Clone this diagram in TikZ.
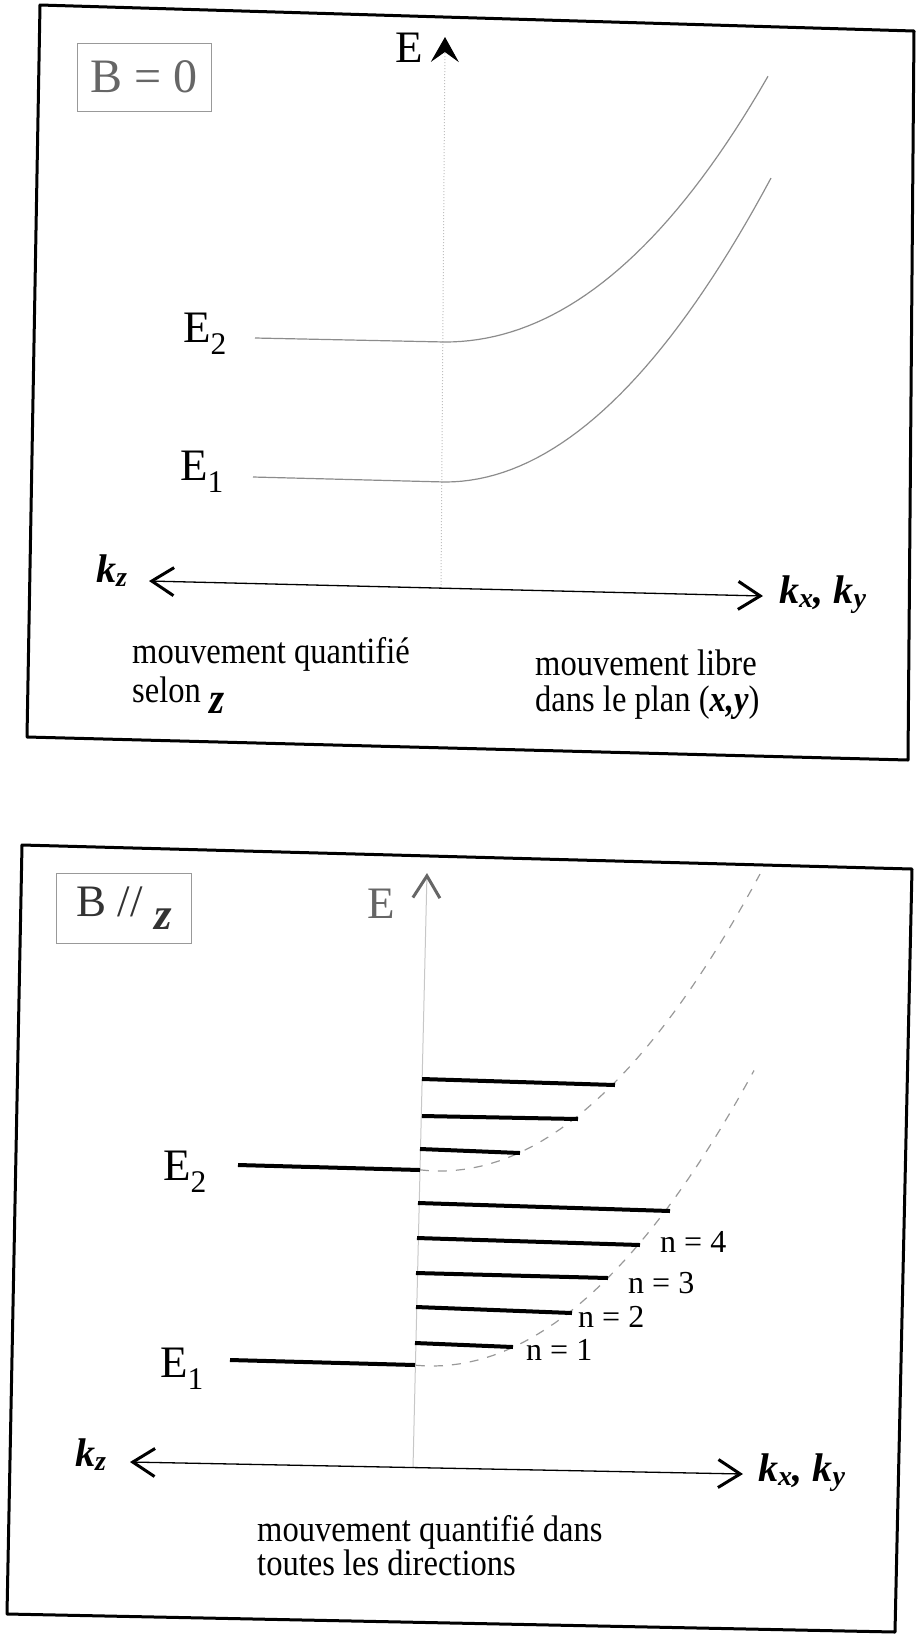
\documentclass[tikz,border=0pt]{standalone}
\usepackage{fontspec}
\setmainfont{Liberation Serif}
\newfontfamily\narrowserif{Liberation Serif}[FakeStretch=0.88]
\usetikzlibrary{arrows.meta}
\newcommand{\hw}[1]{{\bfseries\itshape #1}}

\begin{document}
\begin{tikzpicture}[
  x=1pt, y=-1pt,
  frame/.style={line width=3pt, line join=round},
  tag/.style={draw=black!40, line width=1pt, minimum width=134pt, minimum height=68pt, inner sep=0pt},
  elab/.style={font=\fontsize{45}{54}\selectfont, inner sep=0pt, anchor=base west},
  klab/.style={font=\fontsize{40}{44}\selectfont\bfseries\itshape, inner sep=0pt, anchor=base west},
  txt/.style={font=\narrowserif\fontsize{37}{40}\selectfont, inner sep=0pt, anchor=base west},
  nlab/.style={font=\fontsize{32}{36}\selectfont, inner sep=0pt, anchor=base west},
  band/.style={draw=black!45, line width=1.2pt},
  level/.style={line width=4pt},
  para/.style={draw=black!40, line width=1.2pt, dash pattern=on 9pt off 9pt},
  kaxis/.style={line width=1.3pt, {Straight Barb[length=22pt, width=28pt, line width=3pt]}-{Straight Barb[length=22pt, width=28pt, line width=3pt]}}
]
\useasboundingbox (0,0) rectangle (916,1634);

% upper panel: B = 0
\draw[frame] (40,5) -- (914,31) -- (908,760) -- (27,737) -- cycle;
\node[tag, text=black!60, font=\fontsize{48}{56}\selectfont] (bzero) at (144,77) {B = 0};

\coordinate (o1) at (441,588);
\coordinate (etip1) at (445,37);
\draw[draw=black!25, line width=1pt, dotted, -{Stealth[length=25pt, width=28pt, inset=10pt, black]}] (o1) -- (etip1);
\node[elab] (elab1) at (395,62) {E};

\node[elab] (ea2) at (183,342) {E\textsubscript{2}};
\node[elab] (ea1) at (180,480) {E\textsubscript{1}};
\coordinate (ea2s) at (255,338);
\coordinate (ea2v) at (445,342);
\coordinate (ea1s) at (253,477);
\coordinate (ea1v) at (445,482);
\draw[band] (ea2s) -- (ea2v) -- plot[domain=0:323, samples=40] ({445+\x}, {342-22.5*(\x/100)*(\x/100)-0.92*(\x/100)*(\x/100)*(\x/100)});
\draw[band] (ea1s) -- (ea1v) -- plot[domain=0:326, samples=40] ({445+\x}, {482-28.6*(\x/100)*(\x/100)});

\coordinate (kzl1) at (149,581);
\coordinate (kxr1) at (763,596);
\draw[kaxis] (kzl1) -- (kxr1);
\node[klab] (kz1) at (96,582) {k\textsubscript{z}};
\node[klab] (kxy1) at (779,603) {k\textsubscript{x}, k\textsubscript{y}};

\node[txt] (mq1) at (132,663) {mouvement quantifié};
\node[txt] (mq2) at (132,702) {selon \raisebox{-0.3em}{\hw{\fontsize{44}{48}\selectfont z}}};
\node[txt] (ml1) at (535,675) {mouvement libre};
\node[txt] (ml2) at (535,711) {dans le plan (\hw{x,y})};

% lower panel: B // z
\draw[frame] (22,845) -- (912,869) -- (895,1632) -- (7,1614) -- cycle;
\node[tag, minimum width=135pt, minimum height=70pt, text=black!80, font=\fontsize{45}{54}\selectfont] (bpar) at (124,908) {B // \raisebox{-0.3em}{\hw{z}}};

\coordinate (o2) at (413,1468);
\coordinate (etip2) at (427,873);
\draw[draw=black!22, line width=1pt, -{Straight Barb[length=22pt, width=27pt, line width=3pt, black!60]}] (o2) -- (etip2);
\node[elab, text=black!60] (elab2) at (367,918) {E};

\node[elab] (eb2) at (163,1180) {E\textsubscript{2}};
\node[elab] (eb1) at (160,1377) {E\textsubscript{1}};

\draw[para] plot[domain=420:760, samples=40] (\x, {1171-29*((\x-440)/100)*((\x-440)/100)});
\draw[para] plot[domain=416:754, samples=40] (\x, {1366-28.5*((\x-432)/100)*((\x-432)/100)});

\foreach \xa/\ya/\xb/\yb in {422/1079/615/1085, 422/1116/578/1119, 420/1149/520/1153, 238/1165/420/1170,
  418/1203/670/1211, 417/1238/640/1245, 416/1273/608/1278, 416/1307/572/1313, 415/1343/513/1347, 230/1360/415/1365}
  \draw[level] (\xa,\ya) -- (\xb,\yb);

\node[nlab] (n4) at (660,1252) {n = 4};
\node[nlab] (n3) at (628,1293) {n = 3};
\node[nlab] (n2) at (578,1327) {n = 2};
\node[nlab] (n1) at (526,1360) {n = 1};

\coordinate (kzl2) at (130,1462);
\coordinate (kxr2) at (743,1474);
\draw[kaxis] (kzl2) -- (kxr2);
\node[klab] (kz2) at (75,1466) {k\textsubscript{z}};
\node[klab] (kxy2) at (758,1481) {k\textsubscript{x}, k\textsubscript{y}};

\node[txt] (mt1) at (257,1541) {mouvement quantifié dans};
\node[txt] (mt2) at (257,1575) {toutes les directions};
\end{tikzpicture}
\end{document}
